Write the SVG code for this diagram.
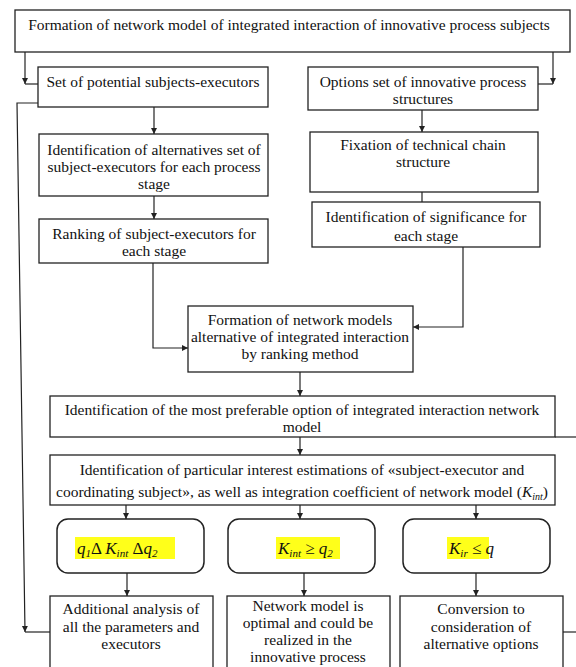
<svg xmlns="http://www.w3.org/2000/svg" width="576" height="667" viewBox="0 0 576 667">
<style>
.box{fill:#fff;stroke:#222;stroke-width:1.3}
.rbox{fill:#fff;stroke:#222;stroke-width:1.5}
.t{font-family:"Liberation Serif","Times New Roman",serif;font-size:15.5px;fill:#111;text-anchor:middle}
.f{font-family:"Liberation Serif","Times New Roman",serif;font-size:17px;font-style:italic;fill:#111}
.c{fill:none;stroke:#222;stroke-width:1.2}
.hl{fill:#ffff1a}
</style>
<defs>
<marker id="ah" markerWidth="8" markerHeight="8" refX="6" refY="3" orient="auto" markerUnits="userSpaceOnUse">
<path d="M0,0 L6,3 L0,6 Z" fill="#222"/>
</marker>
</defs>
<rect width="576" height="667" fill="#fff"/>
<g id="connectors">
<path class="c" d="M25,52 V84" marker-end="url(#ah)"/>
<path class="c" d="M25,84 H38"/>
<path class="c" d="M553,52 V84" marker-end="url(#ah)"/>
<path class="c" d="M553,84 H538"/>
<path class="c" d="M154,107 V134" marker-end="url(#ah)"/>
<path class="c" d="M154,196 V219" marker-end="url(#ah)"/>
<path class="c" d="M153,263 V348 H188" marker-end="url(#ah)"/>
<path class="c" d="M422,110 V132" marker-end="url(#ah)"/>
<path class="c" d="M422,192 V212" marker-end="url(#ah)"/>
<path class="c" d="M463,247 V327 H413" marker-end="url(#ah)"/>
<path class="c" d="M300,372 V396" marker-end="url(#ah)"/>
<path class="c" d="M300,437 V455" marker-end="url(#ah)"/>
<path class="c" d="M126,505 V519" marker-end="url(#ah)"/>
<path class="c" d="M300,505 V519" marker-end="url(#ah)"/>
<path class="c" d="M476,505 V519" marker-end="url(#ah)"/>
<path class="c" d="M127,573 V596" marker-end="url(#ah)"/>
<path class="c" d="M304,573 V596" marker-end="url(#ah)"/>
<path class="c" d="M476,573 V596" marker-end="url(#ah)"/>
<path class="c" d="M38,103 H17 L25,632" marker-end="url(#ah)"/>
<path class="c" d="M25,632 H50"/>
<path class="c" d="M555,437 H576"/>
<path class="c" d="M563,632 H576"/>
</g>
<g id="n-top">
<rect class="box" x="15" y="10" width="555" height="42"/>
<text class="t" x="289" y="30">Formation of network model of integrated interaction of innovative process subjects</text>
</g>
<g id="n-set">
<rect class="box" x="38" y="67" width="230" height="40"/>
<text class="t" x="153" y="87">Set of potential subjects-executors</text>
</g>
<g id="n-options">
<rect class="box" x="308" y="67" width="230" height="43"/>
<text class="t" x="423" y="87">Options set of innovative process</text>
<text class="t" x="423" y="104">structures</text>
</g>
<g id="n-alt">
<rect class="box" x="39" y="134" width="229" height="62"/>
<text class="t" x="154" y="155">Identification of alternatives set of</text>
<text class="t" x="154" y="172">subject-executors for each process</text>
<text class="t" x="154" y="189">stage</text>
</g>
<g id="n-ranking">
<rect class="box" x="39" y="219" width="229" height="44"/>
<text class="t" x="154" y="239">Ranking of subject-executors for</text>
<text class="t" x="154" y="256">each stage</text>
</g>
<g id="n-fixation">
<rect class="box" x="310" y="132" width="228" height="60"/>
<text class="t" x="423" y="150">Fixation of technical chain</text>
<text class="t" x="423" y="167">structure</text>
</g>
<g id="n-significance">
<rect class="box" x="312" y="202" width="228" height="45"/>
<text class="t" x="426" y="222">Identification of significance for</text>
<text class="t" x="426" y="241">each stage</text>
</g>
<g id="n-formation">
<rect class="box" x="188" y="306" width="225" height="66"/>
<text class="t" x="300" y="325">Formation of network models</text>
<text class="t" x="300" y="342">alternative of integrated interaction</text>
<text class="t" x="300" y="359">by ranking method</text>
</g>
<g id="n-preferable">
<rect class="box" x="50" y="396" width="505" height="41"/>
<text class="t" x="302" y="415">Identification of the most preferable option of integrated interaction network</text>
<text class="t" x="302" y="432">model</text>
</g>
<g id="n-particular">
<rect class="box" x="50" y="455" width="505" height="50"/>
<text class="t" x="302" y="475">Identification of particular interest estimations of «subject-executor and</text>
<text class="t" x="302" y="497">coordinating subject», as well as integration coefficient of network model (<tspan font-style="italic">K</tspan><tspan font-style="italic" font-size="10" dy="3">int</tspan><tspan dy="-3">)</tspan></text>
</g>
<g id="n-cond1">
<rect class="rbox" x="57" y="519" width="147" height="54" rx="11"/>
<rect class="hl" x="75" y="537" width="100" height="22"/>
<text class="f" x="77" y="554">q<tspan font-size="11" dy="3">1</tspan><tspan dy="-3" font-style="normal">Δ </tspan>K<tspan font-size="11" dy="3">int</tspan><tspan dy="-3" font-style="normal"> Δ</tspan>q<tspan font-size="11" dy="3">2</tspan></text>
</g>
<g id="n-cond2">
<rect class="rbox" x="228" y="519" width="147" height="54" rx="11"/>
<rect class="hl" x="276" y="537" width="64" height="22"/>
<text class="f" x="278" y="554">K<tspan font-size="11" dy="3">int</tspan><tspan dy="-3" font-style="normal"> ≥ </tspan>q<tspan font-size="11" dy="3">2</tspan></text>
</g>
<g id="n-cond3">
<rect class="rbox" x="403" y="519" width="147" height="54" rx="11"/>
<rect class="hl" x="447" y="537" width="42" height="22"/>
<text class="f" x="449" y="554">K<tspan font-size="11" dy="3">ir</tspan><tspan dy="-3" font-style="normal"> ≤ </tspan>q</text>
</g>
<g id="n-additional">
<rect class="box" x="50" y="596" width="163" height="80"/>
<text class="t" x="131" y="614">Additional analysis of</text>
<text class="t" x="131" y="632">all the parameters and</text>
<text class="t" x="131" y="649">executors</text>
</g>
<g id="n-optimal">
<rect class="box" x="227" y="596" width="163" height="80"/>
<text class="t" x="308" y="611">Network model is</text>
<text class="t" x="308" y="628">optimal and could be</text>
<text class="t" x="308" y="645">realized in the</text>
<text class="t" x="308" y="662">innovative process</text>
</g>
<g id="n-conversion">
<rect class="box" x="400" y="596" width="163" height="80"/>
<text class="t" x="481" y="614">Conversion to</text>
<text class="t" x="481" y="632">consideration of</text>
<text class="t" x="481" y="649">alternative options</text>
</g>
</svg>
